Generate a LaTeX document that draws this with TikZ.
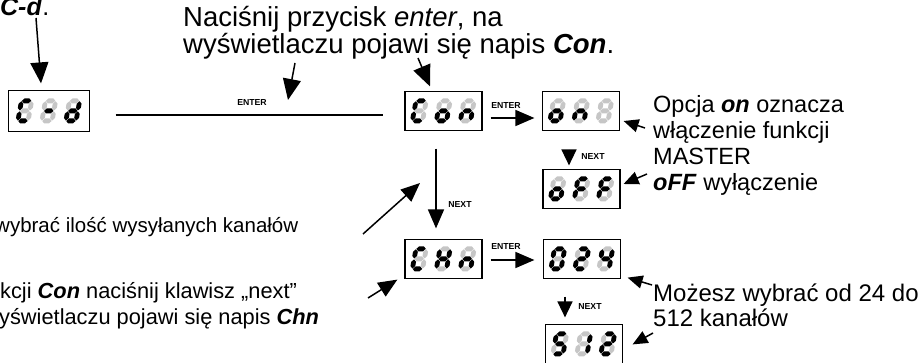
\documentclass[tikz,border=0pt]{standalone}
\usepackage{fontspec}
\setmainfont{Liberation Sans}
\usetikzlibrary{arrows.meta}
\definecolor{sK}{RGB}{0,0,0}
\definecolor{sG}{RGB}{198,198,198}
\newcommand\hseg[4]{\fill[#4] (#1+0.4,#3) -- (#1+2.8,#3+2.4) -- (#2-2.8,#3+2.4) -- (#2-0.4,#3) -- (#2-2.8,#3-2.4) -- (#1+2.8,#3-2.4) -- cycle;}
\newcommand\vseg[4]{\fill[#4] (#1,#2+0.4) -- (#1+2.4,#2+2.8) -- (#1+2.4,#3-2.8) -- (#1,#3-0.4) -- (#1-2.4,#3-2.8) -- (#1-2.4,#2+2.8) -- cycle;}
\newcommand\sevenseg[8]{%
\begin{scope}[shift={#1},x=1pt,y=1.05pt,xslant=0.18]
\hseg{2.4}{12.6}{21.6}{#2}
\vseg{12.6}{12}{21.6}{#3}
\vseg{12.6}{2.4}{12}{#4}
\hseg{2.4}{12.6}{2.4}{#5}
\vseg{2.4}{2.4}{12}{#6}
\vseg{2.4}{12}{21.6}{#7}
\hseg{2.4}{12.6}{12}{#8}
\end{scope}}
\newcommand\chC[1]{\sevenseg{#1}{sK}{sG}{sG}{sK}{sK}{sK}{sG}}
\newcommand\chDash[1]{\sevenseg{#1}{sG}{sG}{sG}{sG}{sG}{sG}{sK}}
\newcommand\chD[1]{\sevenseg{#1}{sG}{sK}{sK}{sK}{sK}{sG}{sK}}
\newcommand\chO[1]{\sevenseg{#1}{sG}{sG}{sK}{sK}{sK}{sG}{sK}}
\newcommand\chN[1]{\sevenseg{#1}{sG}{sG}{sK}{sG}{sK}{sG}{sK}}
\newcommand\chBlank[1]{\sevenseg{#1}{sG}{sG}{sG}{sG}{sG}{sG}{sG}}
\newcommand\chF[1]{\sevenseg{#1}{sK}{sG}{sG}{sG}{sK}{sK}{sK}}
\newcommand\chH[1]{\sevenseg{#1}{sG}{sK}{sK}{sG}{sK}{sK}{sK}}
\newcommand\chZero[1]{\sevenseg{#1}{sK}{sK}{sK}{sK}{sK}{sK}{sG}}
\newcommand\chTwo[1]{\sevenseg{#1}{sK}{sK}{sG}{sK}{sK}{sG}{sK}}
\newcommand\chFour[1]{\sevenseg{#1}{sG}{sK}{sK}{sG}{sG}{sK}{sK}}
\newcommand\chFive[1]{\sevenseg{#1}{sK}{sG}{sK}{sK}{sG}{sK}{sK}}
\newcommand\chOne[1]{\sevenseg{#1}{sG}{sK}{sK}{sG}{sG}{sG}{sG}}
\newcommand\disp[4]{#2{([shift={(-34,12.5)}]#1.center)}#3{([shift={(-10,12.5)}]#1.center)}#4{([shift={(14,12.5)}]#1.center)}}
\tikzset{
  dispbox/.style={draw, line width=1.2pt, minimum width=77pt, minimum height=39pt, inner sep=0pt},
  txt/.style={anchor=base west, inner sep=0pt},
  toptxt/.style={txt, font=\fontsize{27.5}{27.5}\selectfont},
  righttxt/.style={txt, font=\fontsize{23.5}{23.5}\selectfont},
  lefttxt/.style={txt, font=\fontsize{21.8}{21.8}\selectfont},
  lab/.style={inner sep=0pt, font=\fontsize{8.7}{9}\selectfont\bfseries},
  conn/.style={line width=1.5pt},
  arrbig/.style={line width=1.5pt, -{Triangle[length=21pt,width=18pt]}},
  arrmid/.style={line width=1.5pt, -{Triangle[length=19pt,width=16pt]}},
  arrnext/.style={line width=1.5pt, -{Triangle[length=16pt,width=15pt]}},
  arrsmall/.style={line width=1.5pt, -{Triangle[length=15pt,width=13pt]}}
}
\begin{document}
\begin{tikzpicture}[x=1pt,y=-1pt]
\useasboundingbox (0,0) rectangle (922,363);
% display boxes
\node[dispbox, minimum width=81pt, minimum height=41pt] (cd) at (49,111) {};
\node[dispbox] (con) at (443.5,111) {};
\node[dispbox] (on) at (581,111) {};
\node[dispbox] (off) at (581.5,189) {};
\node[dispbox] (chn) at (443.5,259) {};
\node[dispbox] (n024) at (582,259) {};
\node[dispbox] (n512) at (584,344) {};
% digits
\disp{cd}{\chC}{\chDash}{\chD}
\disp{con}{\chC}{\chO}{\chN}
\disp{on}{\chO}{\chN}{\chBlank}
\disp{off}{\chO}{\chF}{\chF}
\disp{chn}{\chC}{\chH}{\chN}
\disp{n024}{\chZero}{\chTwo}{\chFour}
\disp{n512}{\chFive}{\chOne}{\chTwo}
% connectors
\draw[conn] ([shift={(25.5,4)}]cd.east) -- ([shift={(-21,4)}]con.west);
\node[lab] (e0) at (252,103) {ENTER};
\draw[arrmid] ([shift={(8,7)}]con.east) -- ([shift={(-7.5,7)}]on.west);
\node[lab] (e1) at (506,106) {ENTER};
\draw[arrmid] ([shift={(8,1)}]chn.east) -- ([shift={(-8.5,1)}]n024.west);
\node[lab] (e2) at (506,247) {ENTER};
\draw[arrmid] ([shift={(-7.5,17.5)}]con.south) -- ([shift={(-7.5,-10.5)}]chn.north);
\node[lab] (x1) at (460,205) {NEXT};
\draw[arrnext] ([shift={(-12,18.5)}]on.south) -- ([shift={(-12.5,-3.5)}]off.north);
\node[lab] (x2) at (593,157) {NEXT};
\draw[arrnext] ([shift={(-17,17.5)}]n024.south) -- ([shift={(-19,-6.5)}]n512.north);
\node[lab] (x3) at (590,307) {NEXT};
% texts
\node[txt, font=\fontsize{25}{25}\selectfont] (tcd) at (0,16) {\textbf{\textit{C-d}}.};
\node[toptxt] (top1) at (183,27) {Naciśnij przycisk \textit{enter}, na};
\node[toptxt] (top2) at (183,54) {wyświetlaczu pojawi się napis \textbf{\textit{Con}}.};
\node[righttxt] (r1) at (653,113) {Opcja \textbf{\textit{on}} oznacza};
\node[righttxt] (r2) at (653,139) {włączenie funkcji};
\node[righttxt] (r3) at (653,165) {MASTER};
\node[righttxt] (r4) at (653,191) {\textbf{\textit{oFF}} wyłączenie};
\node[righttxt, font=\fontsize{24}{24}\selectfont] (r5) at (653,302) {Możesz wybrać od 24 do};
\node[righttxt, font=\fontsize{24}{24}\selectfont] (r6) at (653,327) {512 kanałów};
\node[lefttxt, font=\fontsize{20.5}{20.5}\selectfont] (l1) at (-5,233) {wybrać ilość wysyłanych kanałów};
\node[lefttxt] (l2) at (0,299) {kcji \textbf{\textit{Con}} naciśnij klawisz „next”};
\node[lefttxt] (l3) at (-1,325) {yświetlaczu pojawi się napis \textbf{\textit{Chn}}};
% annotation arrows
\coordinate (p1) at (36,18);
\draw[arrbig] (p1) -- ([shift={(-8,-6.5)}]cd.north);
\coordinate (p2) at (295,63);
\coordinate (q2) at (288,100);
\draw[arrbig] (p2) -- (q2);
\coordinate (p3) at (418,58);
\draw[arrbig] (p3) -- ([shift={(-13.5,-4.5)}]con.north);
\coordinate (p4) at (363,234);
\coordinate (q4) at (420,183);
\draw[arrmid] (p4) -- (q4);
\coordinate (p5) at (368,298);
\draw[arrmid] (p5) -- ([shift={(-7,0.5)}]chn.south west);
\coordinate (p6) at (645,128);
\draw[arrsmall] (p6) -- ([shift={(3.5,10)}]on.east);
\coordinate (p7) at (647,174);
\draw[arrsmall] (p7) -- ([shift={(3,-5)}]off.east);
\coordinate (p8) at (652,285);
\draw[arrsmall] (p8) -- ([shift={(6.5,-1.5)}]n024.south east);
\coordinate (p9) at (653,333);
\draw[arrsmall] (p9) -- ([shift={(9.5,20.5)}]n512.north east);
\end{tikzpicture}
\end{document}
